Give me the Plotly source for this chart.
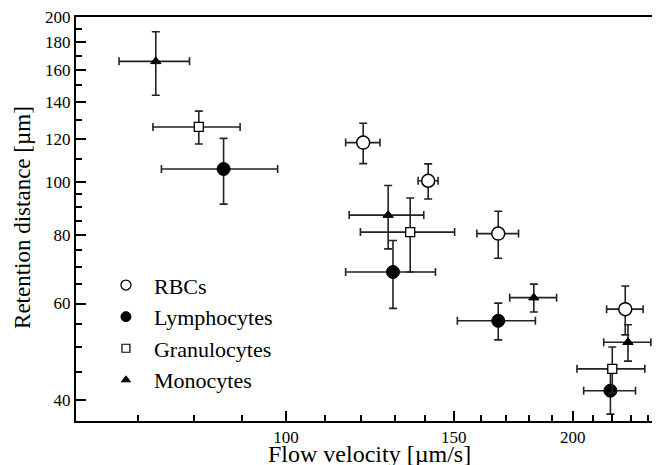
import plotly.graph_objects as go

# ---- data ----
rbc_x = [120.5, 141, 167, 227]
rbc_xerr = [5, 3.4, 8.4, 10]
rbc_y = [118, 100.5, 80.5, 58.6]
rbc_yerr = [10, 7.4, 7.9, 6]

lym_x = [86, 129.5, 167, 219]
lym_xerr = [12, 14, 15.7, 13.7]
lym_y = [105.6, 68.5, 55.8, 41.6]
lym_yerr = [14.5, 9.7, 4.3, 3.9]

gra_x = [81, 135, 220]
gra_xerr = [8.5, 15.3, 18]
gra_y = [126, 81, 45.6]
gra_yerr = [8.7, 12.5, 4.4]

mon_x = [73, 128, 182, 228.5]
mon_xerr = [6.2, 11.5, 10.3, 13]
mon_y = [166, 87, 61.5, 51]
mon_yerr = [22, 11.5, 3.6, 3.9]

series_names = ["RBCs", "Lymphocytes", "Granulocytes", "Monocytes"]

x_major = [100, 150, 200]
x_minor = [70, 80, 90, 110, 120, 130, 140, 160, 170, 180, 190, 210, 220, 230, 240]
y_major = [40, 60, 80, 100, 120, 140, 160, 180, 200]
y_minor = [45, 50, 55, 65, 70, 75, 85, 90, 95, 110, 130, 150, 170, 190]

x_title = "Flow velocity [µm/s]"
y_title = "Retention distance [µm]"

# ---- styles ----
ERR_COLOR = "#222222"
styles = [
    dict(symbol="circle", size=13, color="white", line=dict(color="black", width=1.5)),
    dict(symbol="circle", size=13, color="black", line=dict(color="black", width=1)),
    dict(symbol="square", size=9, color="white", line=dict(color="black", width=1.3)),
    dict(symbol="triangle-up", size=9, color="black", line=dict(color="black", width=1)),
]
legend_styles = [
    dict(symbol="circle", size=10, color="white", line=dict(color="black", width=1.3)),
    dict(symbol="circle", size=10, color="black", line=dict(color="black", width=1)),
    dict(symbol="square", size=8, color="white", line=dict(color="black", width=1.2)),
    dict(symbol="triangle-up", size=8, color="black", line=dict(color="black", width=1)),
]
data = [
    (rbc_x, rbc_xerr, rbc_y, rbc_yerr),
    (lym_x, lym_xerr, lym_y, lym_yerr),
    (gra_x, gra_xerr, gra_y, gra_yerr),
    (mon_x, mon_xerr, mon_y, mon_yerr),
]

fig = go.Figure()
for name, (x, xe, y, ye), st in zip(series_names, data, styles):
    fig.add_trace(go.Scatter(
        x=x, y=y, mode="markers", name=name, showlegend=False,
        marker=st,
        error_x=dict(type="data", array=xe, color=ERR_COLOR, thickness=1.6, width=4),
        error_y=dict(type="data", array=ye, color=ERR_COLOR, thickness=1.6, width=4),
    ))
for name, st in zip(series_names, legend_styles):
    fig.add_trace(go.Scatter(x=[None], y=[None], mode="markers", name=name,
                             marker=st, showlegend=True))

SERIF = "Liberation Serif"
# the page body adds an 8px offset; margins compensate so the plot area
# lands at x 76..660, y 17..421 in the photographed window
fig.update_layout(
    width=660, height=465,
    margin=dict(l=68, r=8, t=9, b=52),
    paper_bgcolor="white", plot_bgcolor="white",
    font=dict(family=SERIF, color="black"),
    showlegend=True,
    legend=dict(x=0.0376, y=0.388, xanchor="left", yanchor="top",
                itemwidth=46,
                font=dict(family=SERIF, size=22, color="black"),
                bgcolor="rgba(0,0,0,0)", borderwidth=0),
    annotations=[
        dict(text=x_title, xref="paper", yref="paper", x=0.5026, y=-0.0817,
             xanchor="center", yanchor="middle", showarrow=False,
             font=dict(family=SERIF, size=24, color="black")),
        dict(text=y_title, xref="paper", yref="paper", x=-0.0908, y=0.505,
             xanchor="center", yanchor="middle", showarrow=False, textangle=-90,
             font=dict(family=SERIF, size=23, color="black")),
    ],
)
fig.update_xaxes(
    type="log", range=[1.7796, 2.3925], automargin=False,
    showgrid=False, zeroline=False,
    showline=True, linecolor="black", linewidth=2, mirror=True,
    ticks="inside", ticklen=10, tickwidth=1.5, tickcolor="black",
    tickmode="array", tickvals=x_major, ticktext=[str(v) for v in x_major],
    tickfont=dict(family=SERIF, size=17, color="black"),
    ticklabeloverflow="allow",
    minor=dict(tickmode="array", tickvals=x_minor, ticks="inside", ticklen=6,
               tickwidth=1.5, tickcolor="black", showgrid=False),
)
fig.update_yaxes(
    type="log", range=[1.5638, 2.30106], automargin=False,
    showgrid=False, zeroline=False,
    showline=True, linecolor="black", linewidth=2, mirror=False,
    ticks="inside", ticklen=10, tickwidth=1.5, tickcolor="black",
    tickmode="array", tickvals=y_major, ticktext=[str(v) for v in y_major],
    tickfont=dict(family=SERIF, size=17, color="black"),
    ticklabeloverflow="allow",
    minor=dict(tickmode="array", tickvals=y_minor, ticks="inside", ticklen=6,
               tickwidth=1.5, tickcolor="black", showgrid=False),
)

fig.write_html("out.html")
